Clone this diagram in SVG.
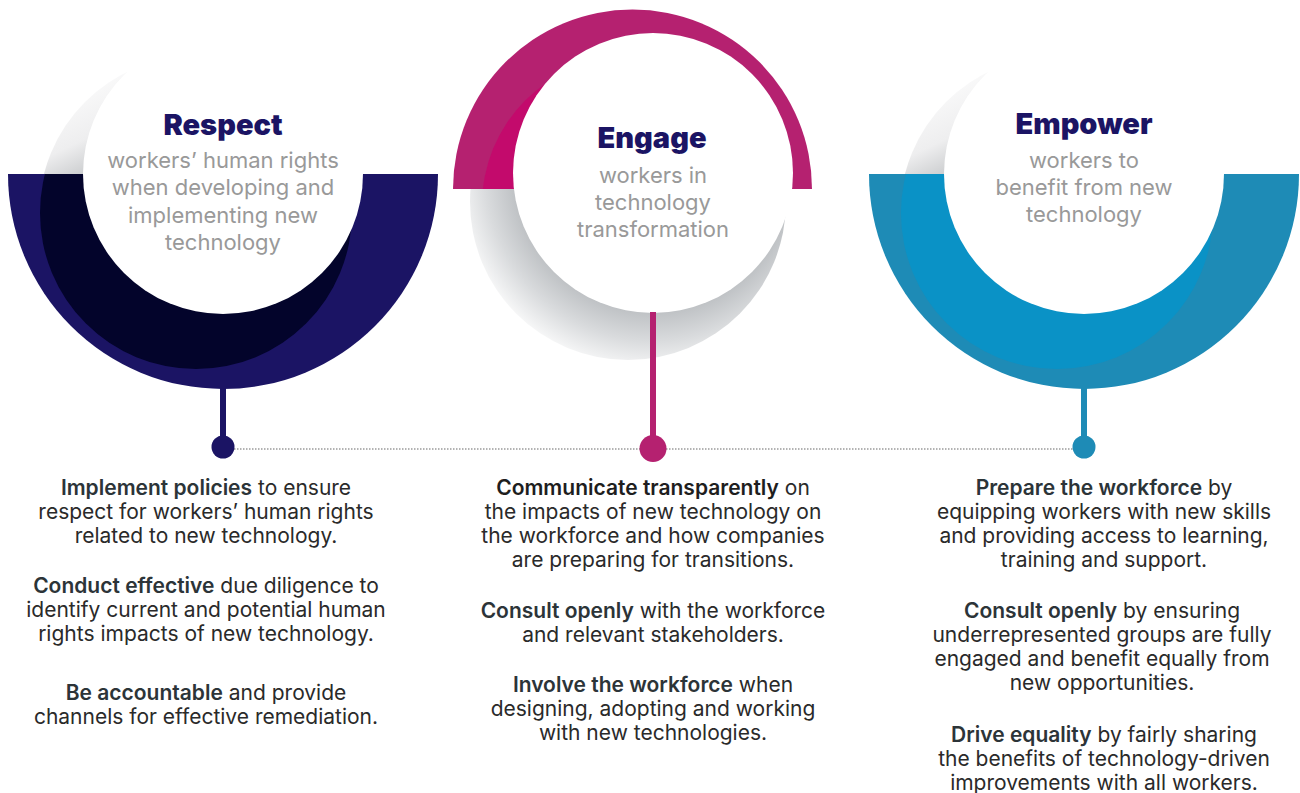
<svg xmlns="http://www.w3.org/2000/svg" width="1300" height="793" viewBox="0 0 1300 793">
<style>
.title{font-family:Inter,"Liberation Sans",sans-serif;font-weight:900;font-size:29px;fill:#1b1464;text-anchor:middle}
.sub{font-family:Inter,"Liberation Sans",sans-serif;font-weight:400;font-size:22px;fill:#999999;text-anchor:middle}
.body{font-family:Inter,"Liberation Sans",sans-serif;font-weight:400;font-size:21px;fill:#2a2a2a;text-anchor:middle}
.b{font-weight:600;fill:#2c3438}
</style>
<defs>
<clipPath id="above174"><rect x="0" y="0" width="1300" height="174"/></clipPath>
<clipPath id="below174"><rect x="0" y="174" width="1300" height="400"/></clipPath>
<clipPath id="above189"><path d="M453 189 A179.5 179.5 0 0 1 812 189 Z"/></clipPath>
<clipPath id="below189"><rect x="0" y="189" width="1300" height="400"/></clipPath>
<linearGradient id="shL" gradientUnits="userSpaceOnUse" x1="50" y1="80" x2="95" y2="175">
<stop offset="0" stop-color="#ffffff"/><stop offset="0.65" stop-color="#eeeeef"/><stop offset="1" stop-color="#c6c8ca"/>
</linearGradient>
<linearGradient id="shR" gradientUnits="userSpaceOnUse" x1="911" y1="80" x2="956" y2="175">
<stop offset="0" stop-color="#ffffff"/><stop offset="0.65" stop-color="#eeeeef"/><stop offset="1" stop-color="#c6c8ca"/>
</linearGradient>
<radialGradient id="shM" gradientUnits="userSpaceOnUse" cx="653" cy="173" r="205">
<stop offset="0.68" stop-color="#bfc2c5"/><stop offset="0.82" stop-color="#d9dbdd"/><stop offset="1" stop-color="#ffffff"/>
</radialGradient>
</defs>

<g id="node-respect">
<circle cx="196" cy="213" r="157" fill="url(#shL)" clip-path="url(#above174)"/>
<path d="M8 174 A215 215 0 0 0 438 174 Z" fill="#1b1464"/>
<circle cx="196" cy="213" r="156" fill="#03042b" clip-path="url(#below174)"/>
<circle cx="223" cy="174" r="140" fill="#ffffff"/>
<text class="title" x="223" y="135">Respect</text>
<text class="sub" x="223" y="168">workers’ human rights</text>
<text class="sub" x="223" y="195">when developing and</text>
<text class="sub" x="223" y="223">implementing new</text>
<text class="sub" x="223" y="250">technology</text>
<text class="body" x="206" y="495"><tspan class="b">Implement policies</tspan> to ensure</text>
<text class="body" x="206" y="519">respect for workers’ human rights</text>
<text class="body" x="206" y="543">related to new technology.</text>
<text class="body" x="206" y="593"><tspan class="b">Conduct effective</tspan> due diligence to</text>
<text class="body" x="206" y="617">identify current and potential human</text>
<text class="body" x="206" y="641">rights impacts of new technology.</text>
<text class="body" x="206" y="700"><tspan class="b">Be accountable</tspan> and provide</text>
<text class="body" x="206" y="724">channels for effective remediation.</text>
</g>

<g id="node-engage">
<circle cx="628" cy="202" r="158" fill="url(#shM)" clip-path="url(#below189)"/>
<path d="M453 189 A179.5 179.5 0 0 1 812 189 Z" fill="#b52170"/>
<circle cx="630" cy="205" r="148" fill="#c30a6c" clip-path="url(#above189)"/>
<circle cx="653" cy="173" r="140" fill="#ffffff"/>
<text class="title" x="652" y="148">Engage</text>
<text class="sub" x="653" y="183">workers in</text>
<text class="sub" x="653" y="210">technology</text>
<text class="sub" x="653" y="237">transformation</text>
<text class="body" x="653" y="495"><tspan class="b" style="fill:#1e1e1e">Communicate transparently</tspan> on</text>
<text class="body" x="653" y="519">the impacts of new technology on</text>
<text class="body" x="653" y="543">the workforce and how companies</text>
<text class="body" x="653" y="567">are preparing for transitions.</text>
<text class="body" x="653" y="618"><tspan class="b">Consult openly</tspan> with the workforce</text>
<text class="body" x="653" y="642">and relevant stakeholders.</text>
<text class="body" x="653" y="692"><tspan class="b">Involve the workforce</tspan> when</text>
<text class="body" x="653" y="716">designing, adopting and working</text>
<text class="body" x="653" y="740">with new technologies.</text>
</g>

<g id="node-empower">
<circle cx="1057" cy="213" r="157" fill="url(#shR)" clip-path="url(#above174)"/>
<path d="M869 174 A215 215 0 0 0 1299 174 Z" fill="#1e8bb6"/>
<circle cx="1057" cy="213" r="156" fill="#0a92c6" clip-path="url(#below174)"/>
<circle cx="1084" cy="174" r="140" fill="#ffffff"/>
<text class="title" x="1084" y="134">Empower</text>
<text class="sub" x="1084" y="168">workers to</text>
<text class="sub" x="1084" y="195">benefit from new</text>
<text class="sub" x="1084" y="222">technology</text>
<text class="body" x="1104" y="495"><tspan class="b">Prepare the workforce</tspan> by</text>
<text class="body" x="1104" y="519">equipping workers with new skills</text>
<text class="body" x="1104" y="543">and providing access to learning,</text>
<text class="body" x="1104" y="567">training and support.</text>
<text class="body" x="1102" y="618"><tspan class="b">Consult openly</tspan> by ensuring</text>
<text class="body" x="1102" y="642">underrepresented groups are fully</text>
<text class="body" x="1102" y="666">engaged and benefit equally from</text>
<text class="body" x="1102" y="690">new opportunities.</text>
<text class="body" x="1104" y="742"><tspan class="b">Drive equality</tspan> by fairly sharing</text>
<text class="body" x="1104" y="766">the benefits of technology-driven</text>
<text class="body" x="1104" y="790">improvements with all workers.</text>
</g>

<g id="connectors">
<line x1="234" y1="449" x2="1073" y2="449" stroke="#9a9a9a" stroke-width="1.5" stroke-dasharray="1.5 1.5"/>
<line x1="223" y1="386" x2="223" y2="447" stroke="#1b1464" stroke-width="6"/>
<circle cx="223" cy="447" r="11.5" fill="#1b1464"/>
<line x1="653" y1="312" x2="653" y2="448" stroke="#b52170" stroke-width="6"/>
<circle cx="653" cy="448.5" r="13.5" fill="#b52170"/>
<line x1="1084" y1="386" x2="1084" y2="447" stroke="#1e8bb6" stroke-width="6"/>
<circle cx="1084" cy="447" r="11.5" fill="#1e8bb6"/>
</g>
</svg>
